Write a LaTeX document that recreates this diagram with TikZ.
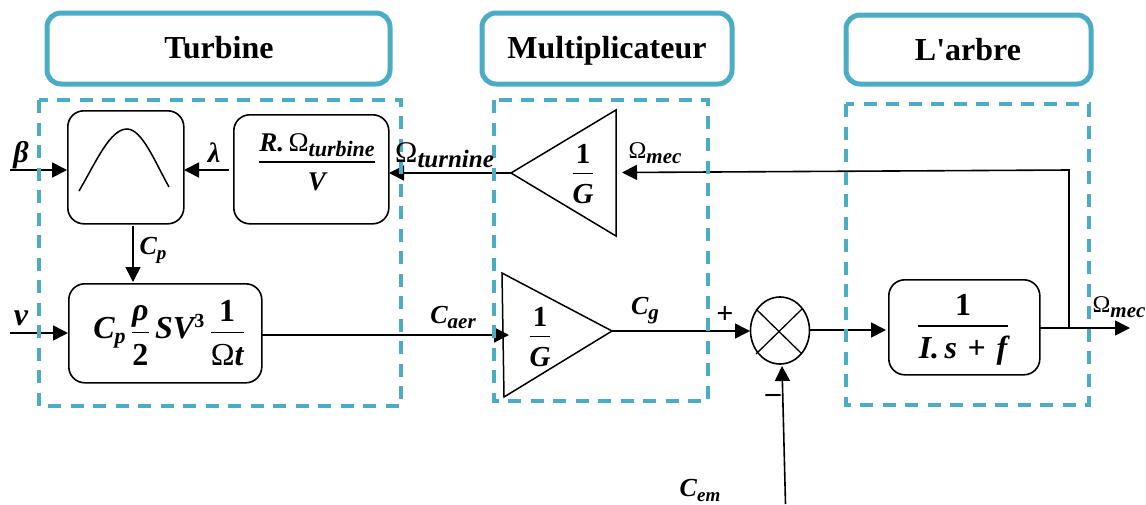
\documentclass[tikz,border=0pt]{standalone}
\usepackage{amsmath}
\usepackage{fontspec}
\setmainfont{Liberation Serif}
\usetikzlibrary{arrows.meta,shapes.geometric}
\newcommand{\Fs}[2]{{\fontsize{#1}{#1}\selectfont #2}}
\newcommand{\Sb}[2]{\raisebox{-5pt}{\Fs{#1}{#2}}}
\newcommand{\Om}[1]{{\fontsize{#1}{#1}\selectfont\mdseries\upshape Ω}}
\newcommand{\Dg}[1]{{\upshape #1}}
\newcommand{\Fr}[2]{$\genfrac{}{}{1.5pt}{0}{\mbox{\rule[-0.14em]{0pt}{0.14em}#1}}{\mbox{\rule{0pt}{0.86em}#2}}$}
\definecolor{tealb}{HTML}{4BACC6}
\tikzset{
  header/.style={draw=tealb,line width=5pt,rounded corners=14pt,fill=white},
  group/.style={draw=tealb,line width=4pt,dash pattern=on 13pt off 9.5pt},
  block/.style={draw=black,line width=1.6pt,rounded corners=16pt,fill=white},
  gain/.style={draw=black,line width=1.5pt,line join=miter},
  wire/.style={draw=black,line width=1.6pt},
  flow/.style={wire,-{Triangle[length=15pt,width=15pt]}},
  title/.style={inner sep=0pt,anchor=base,font=\fontsize{32}{36}\selectfont\bfseries},
  lab/.style={inner sep=0pt,font=\bfseries\itshape},
  sign/.style={inner sep=0pt,font=\fontsize{30}{32}\selectfont\bfseries}
}
\begin{document}
\begin{tikzpicture}[x=1pt,y=-1pt]
\useasboundingbox (0,0) rectangle (1146,504);
% headers
\draw[header] (47,13) rectangle (390,84);
\draw[header] (482,13) rectangle (732,84);
\draw[header] (846,15) rectangle (1091,84);
\node[title] (tTurb) at (219,58) {Turbine};
\node[title] (tMult) at (607,58) {Multiplicateur};
\node[title] (tArb) at (968,60) {L\textquotesingle arbre};
% blocks
\node[block,minimum width=116pt,minimum height=113pt,anchor=north west] (curve) at (67,110) {};
\node[block,minimum width=155pt,minimum height=109pt,anchor=north west] (lam) at (233,114) {};
\node[block,minimum width=193pt,minimum height=99pt,anchor=north west] (aero) at (68,283) {};
\node[block,minimum width=151pt,minimum height=95pt,anchor=north west] (shaft) at (888,279) {};
\draw[line width=1.5pt] (79,191) .. controls (96,162) and (110,129) .. (127,129) .. controls (142,129) and (155,162) .. (169,187);
\node[lab] (lamTxt) at (317,162) {\Fs{27}{\Fr{R.\,\Om{27}\Sb{22}{turbine}}{V}}};
\node[lab] (aeroTxt) at (169,333) {\Fs{32}{C\Sb{22}{p}\,\Fr{ρ}{\Dg{2}}\,SV\raisebox{11pt}{\Fs{20}{\Dg{3}}}\,\Fr{\Dg{1}}{\Om{32}t}}};
\node[lab] (shaftTxt) at (963,330) {\Fs{32}{\Fr{\Dg{1}}{\makebox[90pt]{I.\,s\,\,\Dg{+}\,\,f}}}};
% gains
\coordinate (g1a) at (511,173);
\coordinate (g1b) at (616,110);
\coordinate (g1c) at (616,236);
\draw[gain] (g1a) -- (g1b) -- (g1c) -- cycle;
\coordinate (g2a) at (612,331);
\coordinate (g2b) at (502,273);
\coordinate (g2c) at (504,397);
\draw[gain] (g2a) -- (g2b) -- (g2c) -- cycle;
\node[lab] (g1t) at (583,174) {\Fs{29}{\Fr{\Dg{1}}{G}}};
\node[lab] (g2t) at (540,337) {\Fs{29}{\Fr{\Dg{1}}{G}}};
% sum
\node[draw=black,line width=1.6pt,ellipse,minimum width=59pt,minimum height=67pt,inner sep=0pt] (sum) at (780,330.5) {};
\draw[line width=1.3pt] (756,309) -- (802,354) (802,309) -- (756,354);
% free ends
\coordinate (beta0) at (10,170);
\coordinate (betaE) at (67,170);
\coordinate (v0) at (10,333);
\coordinate (vE) at (68,333);
\coordinate (lamS) at (229,170);
\coordinate (lamE) at (184,170);
\coordinate (omE) at (389,173);
\coordinate (cpS) at (133,226);
\coordinate (cpE) at (133,282);
\coordinate (caS) at (261,335);
\coordinate (caE) at (509,335);
\coordinate (cgE) at (750,331);
\coordinate (sumO) at (809,330);
\coordinate (shI) at (886,330);
\coordinate (shO) at (1039,328);
\coordinate (outE) at (1130,328);
\coordinate (fbC) at (1069,328);
\coordinate (fbT) at (1069,170);
\coordinate (fbE) at (622,172.5);
\coordinate (emS) at (785.5,504);
\coordinate (emE) at (782,366);
% connectors
\draw[flow] (beta0) -- (betaE);
\draw[flow] (v0) -- (vE);
\draw[flow] (lamS) -- (lamE);
\draw[flow] (g1a) -- (omE);
\draw[flow] (cpS) -- (cpE);
\draw[flow] (caS) -- (caE);
\draw[flow] (g2a) -- (cgE);
\draw[flow] (sumO) -- (shI);
\draw[flow] (shO) -- (outE);
\draw[flow] (fbC) -- (fbT) -- (fbE);
\draw[flow] (emS) -- (emE);
% groups
\draw[group] (39,100) rectangle (401,406);
\draw[group] (494,100) rectangle (708,401);
\draw[group] (846,104) rectangle (1089,405);
% labels
\node[lab] (lBeta) at (21,155) {\Fs{30}{β}};
\node[lab] (lV) at (21,318) {\Fs{32}{v}};
\node[lab] (lLam) at (214,153) {\Fs{28}{λ}};
\node[lab] (lCp) at (153,250) {\Fs{26}{C\Sb{19}{p}}};
\node[lab,anchor=west] (lOt) at (395,155) {\Om{30}\Sb{25}{turnine}};
\node[lab] (lCa) at (453,317) {\Fs{26}{C\Sb{21}{aer}}};
\node[lab] (lOm) at (655,153) {\Om{24}\Sb{21}{mec}};
\node[lab] (lCg) at (645,311) {\Fs{26}{C\Sb{21}{g}}};
\node[sign] (lPl) at (725,315) {+};
\node[sign] (lMi) at (773,398) {--};
\node[lab] (lCe) at (700,490) {\Fs{26}{C\Sb{19}{em}}};
\node[lab] (lOo) at (1119,307) {\Om{24}\Sb{21}{mec}};
\end{tikzpicture}
\end{document}
